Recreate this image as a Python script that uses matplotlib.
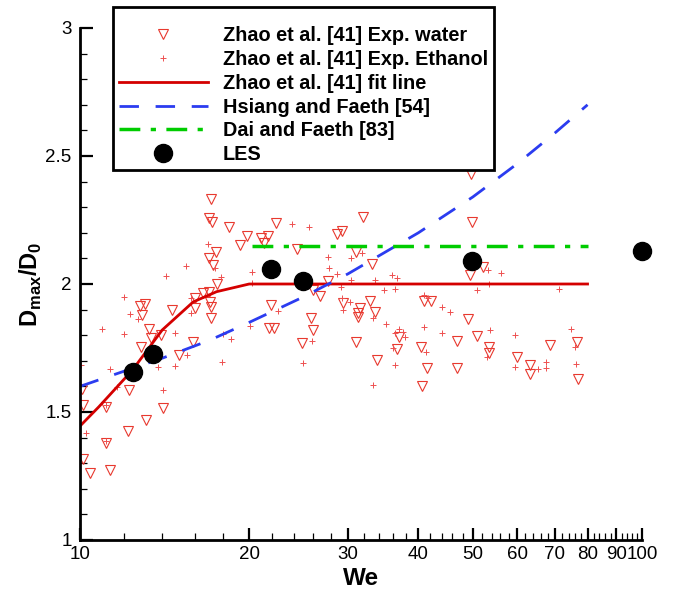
import matplotlib
matplotlib.use('Agg')
import matplotlib.pyplot as plt
from matplotlib.ticker import FixedLocator, NullFormatter

plt.rcParams['font.family'] = ['Liberation Sans', 'DejaVu Sans']
plt.rcParams['mathtext.fontset'] = 'custom'
plt.rcParams['mathtext.rm'] = 'Liberation Sans'
plt.rcParams['mathtext.bf'] = 'Liberation Sans:bold'

# Zhao et al. [41] Exp. water
water_we = [12.80, 13.06, 12.88, 14.60, 13.27, 13.94, 13.36, 15.88, 12.85, 15.0,
            10.08, 12.22, 10.11, 11.14, 14.04, 13.09, 12.17, 11.14, 10.11, 11.29,
            10.43, 16.0, 17.10, 16.98, 17.15, 18.40, 22.31, 19.79, 19.26, 20.99,
            21.62, 21.27, 17.45, 16.96, 17.26, 17.54, 16.55, 16.98, 17.03, 17.10,
            16.03, 17.10, 21.86, 21.70, 22.13, 31.93, 28.62, 29.27, 24.29, 31.04,
            33.03, 27.66, 26.72, 26.0, 32.8, 29.4, 31.5, 31.2, 33.5, 41.0,
            25.75, 31.2, 26.0, 24.82, 30.96, 36.95, 36.6, 33.8, 40.5, 41.5,
            40.6, 49.5, 42.2, 49.0, 46.8, 50.9, 53.4, 53.4, 46.9, 60.0,
            68.5, 63.3, 63.3, 76.7, 76.8, 49.6, 49.9, 52.1]
water_d = [1.914, 1.922, 1.880, 1.898, 1.824, 1.801, 1.790, 1.772, 1.755, 1.724,
           1.589, 1.586, 1.526, 1.518, 1.514, 1.469, 1.427, 1.378, 1.316, 1.273,
           1.260, 1.945, 2.331, 2.257, 2.241, 2.224, 2.240, 2.188, 2.152, 2.178,
           2.188, 2.159, 2.126, 2.100, 2.074, 2.000, 1.964, 1.970, 1.931, 1.911,
           1.907, 1.866, 1.918, 1.827, 1.827, 2.263, 2.194, 2.207, 2.137, 2.124,
           2.078, 2.012, 1.954, 1.977, 1.934, 1.925, 1.905, 1.888, 1.889, 1.934,
           1.868, 1.872, 1.820, 1.771, 1.772, 1.792, 1.745, 1.703, 1.755, 1.671,
           1.602, 2.035, 1.935, 1.863, 1.779, 1.798, 1.755, 1.729, 1.671, 1.716,
           1.762, 1.684, 1.647, 1.775, 1.628, 2.430, 2.243, 2.065]

# Zhao et al. [41] Exp. Ethanol
eth_we = [11.98, 12.29, 12.68, 10.94, 11.98, 14.78, 15.77, 15.73, 15.52, 11.31,
          13.76, 14.78, 11.65, 14.04, 11.14, 10.26, 11.14, 10.05, 16.91, 15.41,
          14.22, 17.81, 20.20, 20.20, 20.06, 22.5, 18.55, 17.38, 23.84, 25.55,
          27.66, 30.3, 31.7, 27.76, 28.7, 30.3, 33.5, 35.9, 36.6, 34.8,
          36.3, 29.1, 29.2, 30.2, 29.4, 40.9, 41.6, 25.9, 24.9, 33.2,
          35.1, 37.0, 36.3, 37.6, 37.9, 36.1, 36.3, 33.2, 41.0, 41.2,
          53.2, 56.2, 53.4, 50.9, 71.1, 44.1, 45.6, 44.1, 53.6, 59.5,
          74.7, 75.9, 52.9, 59.5, 67.4, 65.3, 67.6, 76.2, 17.93, 17.9]
eth_d = [1.950, 1.882, 1.862, 1.824, 1.805, 1.810, 1.886, 1.944, 1.724, 1.669,
         1.677, 1.680, 1.596, 1.586, 1.527, 1.419, 1.388, 1.684, 2.156, 2.071,
         2.032, 2.029, 2.046, 2.003, 1.837, 1.896, 1.784, 2.061, 2.234, 2.221,
         2.107, 2.103, 2.120, 2.064, 2.038, 2.016, 2.016, 2.035, 2.025, 1.977,
         1.980, 1.989, 1.944, 1.931, 1.898, 1.957, 1.944, 1.779, 1.690, 1.866,
         1.844, 1.823, 1.810, 1.814, 1.792, 1.749, 1.684, 1.605, 1.833, 1.733,
         2.055, 2.044, 2.000, 1.977, 1.979, 1.909, 1.892, 1.807, 1.820, 1.801,
         1.823, 1.753, 1.714, 1.677, 1.696, 1.668, 1.671, 1.688, 1.805, 1.694]

# Zhao et al. [41] fit line
fit_we = [10, 10.8, 12.4, 14.0, 15.9, 17.5, 20, 80]
fit_d = [1.445, 1.52, 1.664, 1.82, 1.93, 1.97, 2.0, 2.0]

# Hsiang and Faeth [54]
hf_we = [10, 12, 14, 17, 20, 25, 30, 40, 50, 60, 70, 80]
hf_d = [1.60, 1.66, 1.71, 1.78, 1.85, 1.95, 2.04, 2.20, 2.34, 2.47, 2.59, 2.70]

# Dai and Faeth [83]
df_we = [20.2, 80]
df_d = [2.15, 2.15]

# LES
les_we = [12.4, 13.5, 21.9, 24.9, 49.9, 100]
les_d = [1.655, 1.727, 2.06, 2.01, 2.09, 2.13]

fig = plt.figure(figsize=(6.75, 5.92), dpi=100)
ax = fig.add_axes([80/675, 1-540/592, 562/675, 512/592])

ax.plot(water_we, water_d, linestyle='none', marker='v', markersize=6.5,
        markerfacecolor='none', markeredgecolor='#e8392f', markeredgewidth=0.8,
        label='Zhao et al. [41] Exp. water')
ax.plot(eth_we, eth_d, linestyle='none', marker='+', markersize=5,
        color='#ee5050', markeredgewidth=0.7,
        label='Zhao et al. [41] Exp. Ethanol')
ax.plot(fit_we, fit_d, color='#d40000', lw=2, label='Zhao et al. [41] fit line')
ax.plot(hf_we, hf_d, color='#2b3cf0', lw=2, dashes=(7, 6),
        label='Hsiang and Faeth [54]')
ax.plot(df_we, df_d, color='#00cc00', lw=2.5, dashes=(6, 3, 1.5, 3),
        label='Dai and Faeth [83]')
ax.plot(les_we, les_d, linestyle='none', marker='o', markersize=13,
        color='black', clip_on=False, label='LES')

ax.set_xscale('log')
ax.set_xlim(10, 100)
ax.set_ylim(1, 3)

majors = [10, 20, 30, 40, 50, 60, 70, 80, 90, 100]
minors = [v for v in range(12, 100, 2) if v % 10 != 0]
ax.xaxis.set_major_locator(FixedLocator(majors))
ax.xaxis.set_minor_locator(FixedLocator(minors))
ax.xaxis.set_minor_formatter(NullFormatter())
ax.set_xticklabels([str(v) for v in majors])
ax.set_yticks([1, 1.5, 2, 2.5, 3])
ax.set_yticklabels(['1', '1.5', '2', '2.5', '3'])
ax.set_yticks([1 + 0.1*i for i in range(21)], minor=True)

ax.tick_params(which='both', direction='in', labelsize=13.5, color='black')
ax.tick_params(which='major', length=9, width=1.6)
ax.tick_params(which='minor', length=5, width=0.9)
ax.tick_params(axis='x', pad=4)
ax.tick_params(axis='y', pad=6)

for s in ['top', 'right']:
    ax.spines[s].set_visible(False)
for s in ['left', 'bottom']:
    ax.spines[s].set_linewidth(2)

ax.set_xlabel('We', fontsize=17.5, fontweight='bold', labelpad=3)
ax.set_ylabel(r'$\mathbf{D}_{\mathbf{max}}\mathbf{/D}_{\mathbf{0}}$', fontsize=17, labelpad=1)

# blank title only adds the extra room seen above the first legend row
leg = ax.legend(loc='upper left', bbox_to_anchor=(113/675, 1-7/592),
                bbox_transform=fig.transFigure, frameon=True, fancybox=False,
                prop={'weight': 'bold', 'size': 14.3}, handlelength=4.5,
                handletextpad=0.75, labelspacing=0.24, borderpad=0.28,
                borderaxespad=0, numpoints=1, title=' ', title_fontsize=6.5)
leg.get_frame().set_edgecolor('black')
leg.get_frame().set_linewidth(2)
leg.get_frame().set_alpha(1)

fig.savefig('out.png', dpi=100)
